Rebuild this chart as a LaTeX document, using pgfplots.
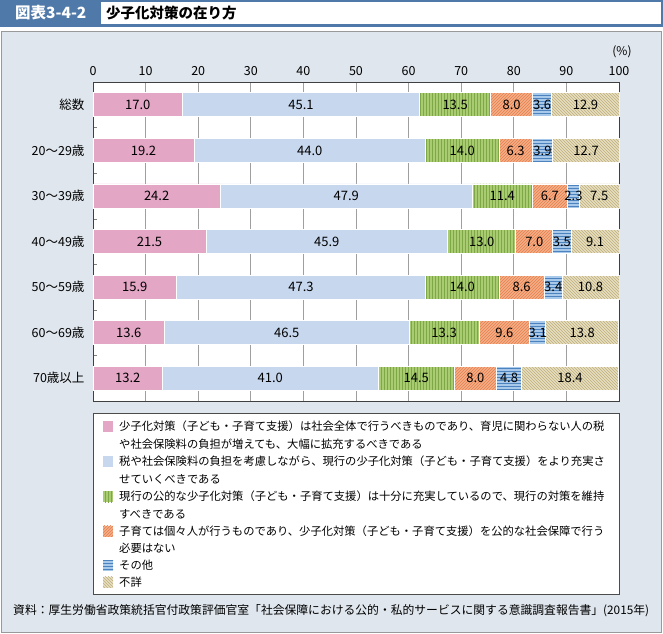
\documentclass[border=0pt]{standalone}
\usepackage{pgfplots}
\pgfplotsset{compat=1.18}
\usepackage{pgfplotstable}
\usetikzlibrary{patterns}
\usepackage{fontspec}
\setmainfont{Noto Sans CJK JP}
\definecolor{hdr}{HTML}{4F79A8}
\definecolor{bgc}{HTML}{DFE6ED}
\definecolor{cpink}{HTML}{E3A6C5}
\definecolor{cblue}{HTML}{C7D7EE}
\definecolor{cgreen}{HTML}{A9CB72}
\definecolor{cgreenl}{HTML}{7DA845}
\definecolor{corange}{HTML}{F4AE88}
\definecolor{corangel}{HTML}{E67E4A}
\definecolor{cother}{HTML}{A9C9EA}
\definecolor{cotherl}{HTML}{4C83BF}
\definecolor{cbeige}{HTML}{E6DFC2}
\definecolor{cbeigel}{HTML}{BDAE78}

\pgfplotstableread{
pos a b c d e f
0 17.0 45.1 13.5 8.0 3.6 12.9
1 19.2 44.0 14.0 6.3 3.9 12.7
2 24.2 47.9 11.4 6.7 2.3 7.5
3 21.5 45.9 13.0 7.0 3.5 9.1
4 15.9 47.3 14.0 8.6 3.4 10.8
5 13.6 46.5 13.3 9.6 3.1 13.8
6 13.2 41.0 14.5 8.0 4.8 18.4
}\data

\newcommand{\lf}{\fontsize{11.3}{13}\selectfont}
\pgfplotsset{
  common/.style={
    at={(93pt,-82pt)}, anchor=north west,
    scale only axis, width=526.5pt, height=319pt,
    xmin=0, xmax=100.1, ymin=-0.5, ymax=6.5, y dir=reverse,
  },
  lab/.style={only marks, mark=none, point meta=explicit,
    nodes near coords={\pgfmathprintnumber[fixed,fixed zerofill,precision=1,assume math mode=true]{\pgfplotspointmeta}},
    every node near coord/.style={anchor=center, font=\fontsize{13}{15}\selectfont, inner sep=0pt, text=black}},
}
\begin{document}
\begin{tikzpicture}[x=1pt,y=1pt]
\path (0,0) rectangle (663,-633);
% header
\fill[hdr] (0,0) rectangle (663,-27);
\fill[white] (101,-1.5) rectangle (660.5,-24);
\node[anchor=west, text=white, font=\fontsize{15.5}{17}\selectfont\bfseries, inner sep=0] at (15,-13) {図表3-4-2};
\node[anchor=west, font=\fontsize{14.5}{16}\selectfont\bfseries, inner sep=0] at (106,-13) {少子化対策の在り方};
% background panel
\filldraw[fill=bgc, draw=gray!80, line width=0.8pt] (1.5,-31) rectangle (661.5,-632);
\node[font=\fontsize{12}{14}\selectfont] at (622,-52) {(\%)};

\begin{axis}[
  common,
  xbar stacked,
  bar width=24pt,
  axis background/.style={fill=white},
  xtick={0,10,...,100}, xticklabel pos=top,
  xmajorgrids, grid style={gray!75, line width=0.7pt},
  major tick length=0pt,
  ytick={0,...,6},
  yticklabels={総数,20〜29歳,30〜39歳,40〜49歳,50〜59歳,60〜69歳,70歳以上},
  minor ytick={0.5,1.5,...,5.5}, minor tick length=4pt, ytick pos=left, tick align=inside,
  axis line style={black!75, line width=0.9pt},
  tick label style={font=\fontsize{12.5}{14}\selectfont},
  xticklabel style={yshift=3pt},
  yticklabel style={xshift=-5pt},
  /pgf/number format/assume math mode=true,
]
\addplot[fill=cpink, draw=white, line width=0.8pt] table[x=a, y=pos] {\data};
\addplot[fill=cblue, draw=white, line width=0.8pt] table[x=b, y=pos] {\data};
\addplot[fill=cgreen, draw=white, line width=0.8pt, postaction={pattern=vertical lines, pattern color=cgreenl}] table[x=c, y=pos] {\data};
\addplot[fill=corange, draw=white, line width=0.8pt, postaction={pattern=north east lines, pattern color=corangel}] table[x=d, y=pos] {\data};
\addplot[fill=cother, draw=white, line width=0.8pt, postaction={pattern=horizontal lines, pattern color=cotherl}] table[x=e, y=pos] {\data};
\addplot[fill=cbeige, draw=white, line width=0.8pt, postaction={pattern=north west lines, pattern color=cbeigel}] table[x=f, y=pos] {\data};
\end{axis}

% value labels, centred in each segment
\begin{axis}[common, hide axis, clip=false]
\addplot[lab] table[x expr={\thisrow{a}/2}, y=pos, meta=a] {\data};
\addplot[lab] table[x expr={\thisrow{a}+\thisrow{b}/2}, y=pos, meta=b] {\data};
\addplot[lab] table[x expr={\thisrow{a}+\thisrow{b}+\thisrow{c}/2}, y=pos, meta=c] {\data};
\addplot[lab] table[x expr={\thisrow{a}+\thisrow{b}+\thisrow{c}+\thisrow{d}/2}, y=pos, meta=d] {\data};
\addplot[lab] table[x expr={\thisrow{a}+\thisrow{b}+\thisrow{c}+\thisrow{d}+\thisrow{e}/2}, y=pos, meta=e] {\data};
\addplot[lab] table[x expr={\thisrow{a}+\thisrow{b}+\thisrow{c}+\thisrow{d}+\thisrow{e}+\thisrow{f}/2}, y=pos, meta=f] {\data};
\end{axis}

% legend box
\filldraw[fill=white, draw=black!70, line width=0.9pt] (93,-413) rectangle (619,-594);
\fill[cpink] (103,-421) rectangle (113,-432);
\node[anchor=west, font=\lf, inner sep=0] at (119,-426.5) {少子化対策（子ども・子育て支援）は社会全体で行うべきものであり、育児に関わらない人の税};
\node[anchor=west, font=\lf, inner sep=0] at (119,-444) {や社会保険料の負担が増えても、大幅に拡充するべきである};
\fill[cblue] (103,-456) rectangle (113,-467);
\node[anchor=west, font=\lf, inner sep=0] at (119,-461.5) {税や社会保険料の負担を考慮しながら、現行の少子化対策（子ども・子育て支援）をより充実さ};
\node[anchor=west, font=\lf, inner sep=0] at (119,-479) {せていくべきである};
\fill[cgreen] (103,-491) rectangle (113,-502);
\path[pattern=vertical lines, pattern color=cgreenl] (103,-491) rectangle (113,-502);
\node[anchor=west, font=\lf, inner sep=0] at (119,-496.5) {現行の公的な少子化対策（子ども・子育て支援）は十分に充実しているので、現行の対策を維持};
\node[anchor=west, font=\lf, inner sep=0] at (119,-514) {すべきである};
\fill[corange] (103,-525.5) rectangle (113,-536.5);
\path[pattern=north east lines, pattern color=corangel] (103,-525.5) rectangle (113,-536.5);
\node[anchor=west, font=\lf, inner sep=0] at (119,-531) {子育ては個々人が行うものであり、少子化対策（子ども・子育て支援）を公的な社会保障で行う};
\node[anchor=west, font=\lf, inner sep=0] at (119,-548) {必要はない};
\fill[cother] (103,-559.5) rectangle (113,-570.5);
\path[pattern=horizontal lines, pattern color=cotherl] (103,-559.5) rectangle (113,-570.5);
\node[anchor=west, font=\lf, inner sep=0] at (119,-565) {その他};
\fill[cbeige] (103,-576.5) rectangle (113,-587.5);
\path[pattern=north west lines, pattern color=cbeigel] (103,-576.5) rectangle (113,-587.5);
\node[anchor=west, font=\lf, inner sep=0] at (119,-582) {不詳};
% source
\node[anchor=west, font=\fontsize{11.8}{13}\selectfont, inner sep=0] at (13,-611) {資料：厚生労働省政策統括官付政策評価官室「社会保障における公的・私的サービスに関する意識調査報告書」(2015年)};
\end{tikzpicture}
\end{document}
